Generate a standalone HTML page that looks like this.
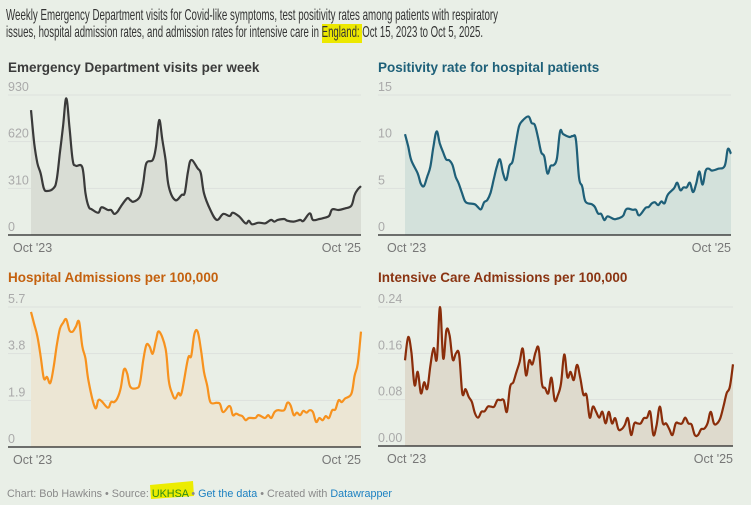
<!DOCTYPE html>
<html><head><meta charset="utf-8"><style>
html,body{margin:0;padding:0;background:#e9efe7;}
svg{display:block;font-family:"Liberation Sans",sans-serif;}
</style></head><body>
<svg id="root" width="751" height="505" viewBox="0 0 751 505" xmlns="http://www.w3.org/2000/svg">
<rect width="751" height="505" fill="#e9efe7"/>
<g>
<text x="6" y="20" font-size="16" fill="#333" textLength="492" lengthAdjust="spacingAndGlyphs">Weekly Emergency Department visits for Covid-like symptoms, test positivity rates among patients with respiratory</text>
<rect x="322" y="24" width="40" height="19" fill="#ece800"/>
<text x="6" y="37" font-size="16" fill="#333" textLength="477" lengthAdjust="spacingAndGlyphs">issues, hospital admission rates, and admission rates for intensive care in England: Oct 15, 2023 to Oct 5, 2025.</text>
</g>
<g id="panels"></g>
<g>
<path d="M150,485 L193,481 L194,496 L151,499 Z" fill="#ecec00"/>
<text x="7" y="497" font-size="11" fill="#8a8a8a" textLength="385" lengthAdjust="spacingAndGlyphs">Chart: Bob Hawkins • Source: <tspan fill="#2a8a1a">UKHSA</tspan> • <tspan fill="#1d81c2">Get the data</tspan> • Created with <tspan fill="#1d81c2">Datawrapper</tspan></text>
</g>
</svg>
<script>
const edWeeks=[0,1,2,3,4,5,7,8,9,10,11,12,13,14,16,17,18,19,21,22,24,25,26,27,28,30,31,32,34,35,36,38,39,40,41,42,43,45,47,48,49,50,52,53,54,56,58,60,62,63,65,67,68,69,71,73,74,75,76,77,79,80,82,84,85,87,88,90,91,93,94,96,98,100,101,102,103];
const edValues=[830,609,476,410,310,292,310,365,542,720,908,720,498,460,450,277,188,170,148,184,166,166,140,155,188,244,232,221,255,343,476,498,587,764,631,498,321,232,266,281,421,498,443,410,277,166,100,140,126,148,122,77,95,71,82,77,89,100,89,100,106,95,89,100,93,144,100,106,111,126,170,166,177,195,266,303,325];
const posWeeks=[0,1,2,4,5,6,7,8,9,10,11,12,13,14,15,16,17,18,19,20,22,23,24,25,26,27,28,29,30,31,32,33,34,35,36,37,39,40,41,42,43,44,45,46,47,48,49,50,52,53,54,55,56,57,59,60,61,62,63,64,66,67,68,69,70,72,73,74,76,77,78,79,80,81,82,83,85,86,87,88,89,90,91,92,93,94,95,96,97,99,101,102,103];
const posValues=[10.8,9.5,8.0,6.6,5.5,5.25,6.25,7.3,9.5,11.1,9.8,8.9,8.1,8.0,7.5,6.25,5.5,4.5,3.6,3.4,3.3,3.0,2.75,3.5,3.75,4.5,5.9,7.3,8.1,6.6,5.9,7.4,7.9,9.8,11.6,12.2,12.7,12.0,11.8,10.5,8.9,8.4,6.6,7.4,7.5,8.2,11.1,10.8,10.5,10.6,10.2,6.1,5.2,3.6,3.3,3.0,2.3,2.25,1.6,2.0,1.7,1.75,1.85,2.1,2.8,2.7,2.7,2.1,2.9,3.0,3.4,3.5,3.2,3.6,3.4,4.3,5.0,5.6,4.8,5.1,5.1,5.6,4.6,5.5,6.8,5.4,6.9,7.1,6.9,7.1,7.4,9.2,8.7];
const hospWeeks=[0,1,2,3,4,5,6,7,8,9,10,11,12,13,14,15,16,17,18,20,21,22,24,25,26,27,28,29,30,31,33,34,35,36,37,38,39,40,42,43,44,45,46,47,49,50,51,52,53,54,55,56,58,59,60,62,63,64,65,66,67,68,70,71,73,74,75,76,77,79,80,81,82,83,84,85,86,87,88,89,90,91,92,93,94,95,96,97,98,100,101,102,103];
const hospValues=[5.5,5.0,4.5,3.7,2.8,2.85,2.6,3.2,4.1,4.8,5.05,5.2,4.75,4.7,4.9,5.1,4.1,3.6,2.65,1.6,1.9,1.87,1.6,1.83,1.83,2.0,2.4,3.15,3.0,2.45,2.4,2.6,3.5,4.15,4.1,3.8,4.35,4.7,4.0,2.7,2.2,1.97,2.2,2.2,3.6,3.7,4.6,4.7,4.0,3.05,2.5,1.83,1.8,1.75,1.42,1.67,1.3,1.36,1.3,1.25,1.09,1.18,1.18,1.3,1.18,1.3,1.18,1.42,1.5,1.5,1.8,1.7,1.3,1.4,1.3,1.47,1.4,1.5,1.42,1.02,1.18,1.09,1.26,1.18,1.5,1.53,1.9,1.83,1.97,2.17,2.9,3.4,4.7];
const icuValues=[.148,.188,.162,.105,.128,.091,.110,.099,.140,.169,.150,.240,.151,.200,.191,.149,.160,.158,.091,.098,.085,.076,.056,.049,.059,.060,.068,.068,.068,.079,.079,.079,.059,.102,.110,.128,.145,.168,.122,.148,.141,.162,.168,.108,.100,.091,.118,.079,.088,.108,.158,.119,.128,.114,.140,.119,.089,.088,.049,.068,.059,.049,.059,.039,.059,.039,.048,.029,.029,.036,.048,.019,.039,.039,.039,.048,.049,.059,.019,.036,.068,.039,.039,.029,.019,.039,.039,.039,.049,.039,.037,.019,.019,.029,.030,.039,.059,.039,.039,.048,.068,.091,.102,.141];
const icuWeeks=icuValues.map((v,i)=>i);
const edTicks=["0","310","620","930"];
const posTicks=["0","5","10","15"];
const hospTicks=["0","1.9","3.8","5.7"];
const icuTicks=["0.00","0.08","0.16","0.24"];
const xTicks=["Oct '23","Oct '25"];
const TOTAL_WEEKS=103;

const NS="http://www.w3.org/2000/svg";
const root=document.getElementById('panels');
function mk(tag,attrs,parent){const e=document.createElementNS(NS,tag);for(const k in attrs)e.setAttribute(k,attrs[k]);parent.appendChild(e);return e;}

function smooth(pts){
  let d='M'+pts[0][0].toFixed(1)+','+pts[0][1].toFixed(1);
  for(let i=0;i<pts.length-1;i++){
    const p0=pts[i-1]||pts[i],p1=pts[i],p2=pts[i+1],p3=pts[i+2]||p2;
    const t=0.18;
    const c1x=p1[0]+(p2[0]-p0[0])*t,c1y=p1[1]+(p2[1]-p0[1])*t;
    const c2x=p2[0]-(p3[0]-p1[0])*t,c2y=p2[1]-(p3[1]-p1[1])*t;
    d+='C'+c1x.toFixed(1)+','+c1y.toFixed(1)+' '+c2x.toFixed(1)+','+c2y.toFixed(1)+' '+p2[0].toFixed(1)+','+p2[1].toFixed(1);
  }
  return d;
}

function panel(cfg){
  const g=mk('g',{},root);
  
  
  const t=mk('text',{x:cfg.tx,y:cfg.ty,'font-size':13.5,'font-weight':'bold',fill:cfg.titleColor},g);
  t.textContent=cfg.title;
  
  
  const max=parseFloat(cfg.ticks[cfg.ticks.length-1]);
  const xs=w=>cfg.x0+(cfg.x1-cfg.x0)*w/TOTAL_WEEKS;
  const ys=v=>cfg.base-(cfg.base-cfg.top)*v/max;
  cfg.ticks.forEach((lab,i)=>{
    const v=parseFloat(lab),y=ys(v);
    if(i>0){const l=mk('line',{x1:cfg.tx,x2:cfg.x1,y1:y,y2:y,stroke:'#dde1dc','stroke-width':1},g);
      
      }
    const tl=mk('text',{x:cfg.tx,y:y-4,'font-size':12.5,fill:'#aaa'},g);
    tl.textContent=lab;
    
    
  });
  const pts=cfg.weeks.map((w,i)=>[xs(w),ys(cfg.values[i])]);
  const d=smooth(pts);
  const area=mk('path',{d:d+'L'+xs(cfg.weeks[cfg.weeks.length-1])+','+cfg.base+'L'+xs(cfg.weeks[0])+','+cfg.base+'Z',fill:cfg.fill},g);
  
  
  const line=mk('path',{d:d,fill:'none',stroke:cfg.color,'stroke-width':2.2,'stroke-linejoin':'round'},g);
  
  
  const ax=mk('line',{x1:cfg.tx,x2:cfg.x1,y1:cfg.base,y2:cfg.base,stroke:'#222','stroke-width':1.3},g);
  
  
  const a=mk('text',{x:cfg.x0-18,y:cfg.base+17,'font-size':12.5,fill:'#777'},g);
  a.textContent=xTicks[0];
  
  
  const b=mk('text',{x:cfg.x1,y:cfg.base+17,'font-size':12.5,fill:'#777','text-anchor':'end'},g);
  b.textContent=xTicks[1];
  
  
}
panel({name:'ed-visits-panel',title:'Emergency Department visits per week',titleColor:'#3b3b3b',color:'#3a3a3a',fill:'#d9ddd5',tx:8,ty:72,x0:31,x1:361,top:95,base:235,ticks:edTicks,weeks:edWeeks,values:edValues});
panel({name:'positivity-panel',title:'Positivity rate for hospital patients',titleColor:'#1e6079',color:'#1e5f78',fill:'#d3e1db',tx:378,ty:72,x0:405,x1:731,top:95,base:235,ticks:posTicks,weeks:posWeeks,values:posValues});
panel({name:'hospital-admissions-panel',title:'Hospital Admissions per 100,000',titleColor:'#c4610f',color:'#f7921e',fill:'#ece6d4',tx:8,ty:282,x0:31,x1:361,top:307,base:447,ticks:hospTicks,weeks:hospWeeks,values:hospValues});
panel({name:'icu-admissions-panel',title:'Intensive Care Admissions per 100,000',titleColor:'#8a3412',color:'#8a2d0a',fill:'#dedacd',tx:378,ty:282,x0:405,x1:733,top:307,base:446,ticks:icuTicks,weeks:icuWeeks,values:icuValues});
</script>
</body></html>
